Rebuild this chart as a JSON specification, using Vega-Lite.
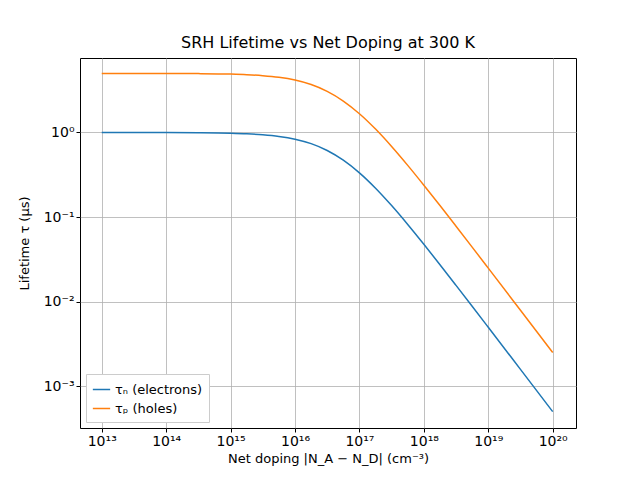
{
  "$schema": "https://vega.github.io/schema/vega-lite/v6.json",
  "width": 496,
  "height": 370,
  "padding": {"left": 80, "top": 58, "right": 64, "bottom": 52},
  "autosize": {"type": "none"},
  "background": "white",
  "title": {"text": "SRH Lifetime vs Net Doping at 300 K", "fontSize": 16, "fontWeight": "normal", "font": "DejaVu Sans", "offset": 7},
  "data": {
    "values": [
      {"N": 1e13, "tau": 0.9998, "s": "τₙ (electrons)"},
      {"N": 3.16e13, "tau": 0.99937, "s": "τₙ (electrons)"},
      {"N": 1e14, "tau": 0.998, "s": "τₙ (electrons)"},
      {"N": 3.16e14, "tau": 0.9937, "s": "τₙ (electrons)"},
      {"N": 1e15, "tau": 0.9804, "s": "τₙ (electrons)"},
      {"N": 1.78e15, "tau": 0.9657, "s": "τₙ (electrons)"},
      {"N": 3.16e15, "tau": 0.9405, "s": "τₙ (electrons)"},
      {"N": 5.62e15, "tau": 0.899, "s": "τₙ (electrons)"},
      {"N": 1e16, "tau": 0.8333, "s": "τₙ (electrons)"},
      {"N": 1.78e16, "tau": 0.7375, "s": "τₙ (electrons)"},
      {"N": 3.16e16, "tau": 0.6126, "s": "τₙ (electrons)"},
      {"N": 5.62e16, "tau": 0.4708, "s": "τₙ (electrons)"},
      {"N": 1e17, "tau": 0.3333, "s": "τₙ (electrons)"},
      {"N": 1.78e17, "tau": 0.2193, "s": "τₙ (electrons)"},
      {"N": 3.16e17, "tau": 0.1366, "s": "τₙ (electrons)"},
      {"N": 5.62e17, "tau": 0.0817, "s": "τₙ (electrons)"},
      {"N": 1e18, "tau": 0.04762, "s": "τₙ (electrons)"},
      {"N": 1.78e18, "tau": 0.02732, "s": "τₙ (electrons)"},
      {"N": 3.16e18, "tau": 0.01557, "s": "τₙ (electrons)"},
      {"N": 5.62e18, "tau": 0.00882, "s": "τₙ (electrons)"},
      {"N": 1e19, "tau": 0.004975, "s": "τₙ (electrons)"},
      {"N": 3.16e19, "tau": 0.001579, "s": "τₙ (electrons)"},
      {"N": 1e20, "tau": 0.0004998, "s": "τₙ (electrons)"},
      {"N": 1e13, "tau": 4.999, "s": "τₚ (holes)"},
      {"N": 3.16e13, "tau": 4.9968, "s": "τₚ (holes)"},
      {"N": 1e14, "tau": 4.99, "s": "τₚ (holes)"},
      {"N": 3.16e14, "tau": 4.9685, "s": "τₚ (holes)"},
      {"N": 1e15, "tau": 4.902, "s": "τₚ (holes)"},
      {"N": 1.78e15, "tau": 4.8285, "s": "τₚ (holes)"},
      {"N": 3.16e15, "tau": 4.7025, "s": "τₚ (holes)"},
      {"N": 5.62e15, "tau": 4.495, "s": "τₚ (holes)"},
      {"N": 1e16, "tau": 4.1665, "s": "τₚ (holes)"},
      {"N": 1.78e16, "tau": 3.6875, "s": "τₚ (holes)"},
      {"N": 3.16e16, "tau": 3.063, "s": "τₚ (holes)"},
      {"N": 5.62e16, "tau": 2.354, "s": "τₚ (holes)"},
      {"N": 1e17, "tau": 1.6665, "s": "τₚ (holes)"},
      {"N": 1.78e17, "tau": 1.0965, "s": "τₚ (holes)"},
      {"N": 3.16e17, "tau": 0.683, "s": "τₚ (holes)"},
      {"N": 5.62e17, "tau": 0.4085, "s": "τₚ (holes)"},
      {"N": 1e18, "tau": 0.2381, "s": "τₚ (holes)"},
      {"N": 1.78e18, "tau": 0.1366, "s": "τₚ (holes)"},
      {"N": 3.16e18, "tau": 0.07785, "s": "τₚ (holes)"},
      {"N": 5.62e18, "tau": 0.0441, "s": "τₚ (holes)"},
      {"N": 1e19, "tau": 0.024875, "s": "τₚ (holes)"},
      {"N": 3.16e19, "tau": 0.007895, "s": "τₚ (holes)"},
      {"N": 1e20, "tau": 0.002499, "s": "τₚ (holes)"}
    ]
  },
  "mark": {"type": "line", "strokeWidth": 1.5, "interpolate": "monotone"},
  "encoding": {
    "x": {
      "field": "N", "type": "quantitative",
      "scale": {"type": "log", "domain": [4.6e12, 2.3e20], "nice": false},
      "title": "Net doping |N_A − N_D| (cm⁻³)",
      "axis": {
        "values": [1e13, 1e14, 1e15, 1e16, 1e17, 1e18, 1e19, 1e20],
        "labelExpr": "'10' + {'13':'¹³','14':'¹⁴','15':'¹⁵','16':'¹⁶','17':'¹⁷','18':'¹⁸','19':'¹⁹','20':'²⁰'}[''+round(log(datum.value)/LN10)]"
      }
    },
    "y": {
      "field": "tau", "type": "quantitative",
      "scale": {"type": "log", "domain": [0.00032, 7.6], "nice": false},
      "title": "Lifetime τ (μs)",
      "axis": {
        "values": [0.001, 0.01, 0.1, 1],
        "titlePadding": 12,
        "labelExpr": "'10' + {'-3':'⁻³','-2':'⁻²','-1':'⁻¹','0':'⁰'}[''+round(log(datum.value)/LN10)]"
      }
    },
    "color": {
      "field": "s", "type": "nominal",
      "scale": {"range": ["#1f77b4", "#ff7f0e"]},
      "legend": {"title": null, "orient": "bottom-left", "symbolType": "stroke", "symbolStrokeWidth": 1.5, "symbolSize": 300, "labelFontSize": 13, "fillColor": "white", "strokeColor": "#cccccc", "padding": 6, "offset": 6, "labelFont": "DejaVu Sans"}
    }
  },
  "config": {
    "view": {"stroke": "black", "strokeWidth": 1},
    "axis": {
      "grid": true, "gridColor": "#b0b0b0", "gridWidth": 0.8,
      "domain": false, "tickColor": "black", "tickSize": 4,
      "labelFont": "DejaVu Sans", "labelFontSize": 14, "labelColor": "black",
      "titleFont": "DejaVu Sans", "titleFontSize": 13, "titleFontWeight": "normal", "titleColor": "black"
    }
  }
}
